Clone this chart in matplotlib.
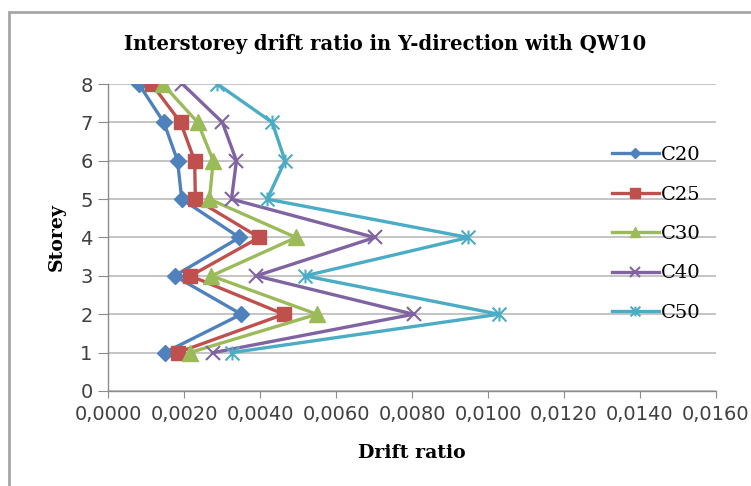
"""Interstorey drift ratio in Y-direction with QW10 (Excel-style line chart)."""

import matplotlib
matplotlib.use("Agg")
import matplotlib.pyplot as plt
from matplotlib.path import Path
from matplotlib.patches import Rectangle
from matplotlib.ticker import FuncFormatter, MultipleLocator

storeys = [1, 2, 3, 4, 5, 6, 7, 8]

c20 = [0.00149, 0.00351, 0.00175, 0.00346, 0.00194, 0.00183, 0.00147, 0.00081]
c25 = [0.00183, 0.00463, 0.00217, 0.00398, 0.00230, 0.00228, 0.00191, 0.00115]
c30 = [0.00215, 0.00550, 0.00272, 0.00495, 0.00267, 0.00277, 0.00236, 0.00144]
c40 = [0.00277, 0.00804, 0.00390, 0.00702, 0.00325, 0.00338, 0.00301, 0.00196]
c50 = [0.00325, 0.01029, 0.00518, 0.00948, 0.00419, 0.00466, 0.00432, 0.00288]

series_names = ["C20", "C25", "C30", "C40", "C50"]
x_ticks = [0.0, 0.002, 0.004, 0.006, 0.008, 0.010, 0.012, 0.014, 0.016]

# Excel "star" marker: an X with a vertical stroke through it
star = Path(
    [(-1, -1), (1, 1), (-1, 1), (1, -1), (0, -1), (0, 1)],
    [Path.MOVETO, Path.LINETO, Path.MOVETO, Path.LINETO, Path.MOVETO, Path.LINETO],
)

styles = [
    dict(color="#4F81BD", marker="D", ms=8),
    dict(color="#C0504D", marker="s", ms=10),
    dict(color="#9BBB59", marker="^", ms=11),
    dict(color="#8064A2", marker="x", ms=10, mew=1.5),
    dict(color="#4BACC6", marker=star, ms=10, mew=1.5, mfc="none"),
]

sans = "DejaVu Sans"
serif = "DejaVu Serif"

fig = plt.figure(figsize=(7.51, 4.86), dpi=100)
ax = fig.add_axes([108 / 751, 1 - 391 / 486, (716 - 108) / 751, (391 - 84) / 486])

for name, vals, st in zip(series_names, [c20, c25, c30, c40, c50], styles):
    ax.plot(vals, storeys, lw=2.4, label=name, zorder=3, **st)

ax.set_xlim(0, 0.016)
ax.set_ylim(0, 8)
ax.set_xticks(x_ticks)
ax.yaxis.set_major_locator(MultipleLocator(1))
ax.xaxis.set_major_formatter(FuncFormatter(lambda v, p: f"{v:.4f}".replace(".", ",")))
ax.grid(axis="y", color="#BFBFBF", lw=1.3)
ax.set_axisbelow(True)
for side in ("top", "right"):
    ax.spines[side].set_visible(False)
for side in ("left", "bottom"):
    ax.spines[side].set_color("#8C8C8C")
    ax.spines[side].set_linewidth(1.0)
ax.tick_params(axis="y", length=7, color="#8C8C8C", labelsize=14, labelcolor="#404040", pad=4)
ax.tick_params(axis="x", length=5, color="#8C8C8C", labelsize=14, labelcolor="#404040", pad=5)
for lab in ax.get_xticklabels() + ax.get_yticklabels():
    lab.set_fontfamily(sans)

fig.text(0.513, 1 - 44 / 486, "Interstorey drift ratio in Y-direction with QW10",
         ha="center", va="center", fontsize=14.1, fontweight="bold", family=serif)
fig.text(412 / 751, 1 - 453 / 486, "Drift ratio", ha="center", va="center",
         fontsize=13.6, fontweight="bold", family=serif)
fig.text(57 / 751, 1 - 237 / 486, "Storey", ha="center", va="center", rotation=90,
         fontsize=13.6, fontweight="bold", family=serif)

leg = fig.legend(loc="center left", bbox_to_anchor=(612 / 751, 1 - 234 / 486),
                 frameon=False, borderpad=0, borderaxespad=0, handlelength=2.4,
                 handletextpad=0.1, labelspacing=1.1, markerscale=0.7,
                 prop={"family": serif, "size": 14})

fig.patches.append(Rectangle((9 / 751, -0.1), 1.5, 1.1 - 12 / 486, transform=fig.transFigure,
                             fill=False, edgecolor="#A6A6A6", lw=2))

fig.savefig("out.png", dpi=100)
